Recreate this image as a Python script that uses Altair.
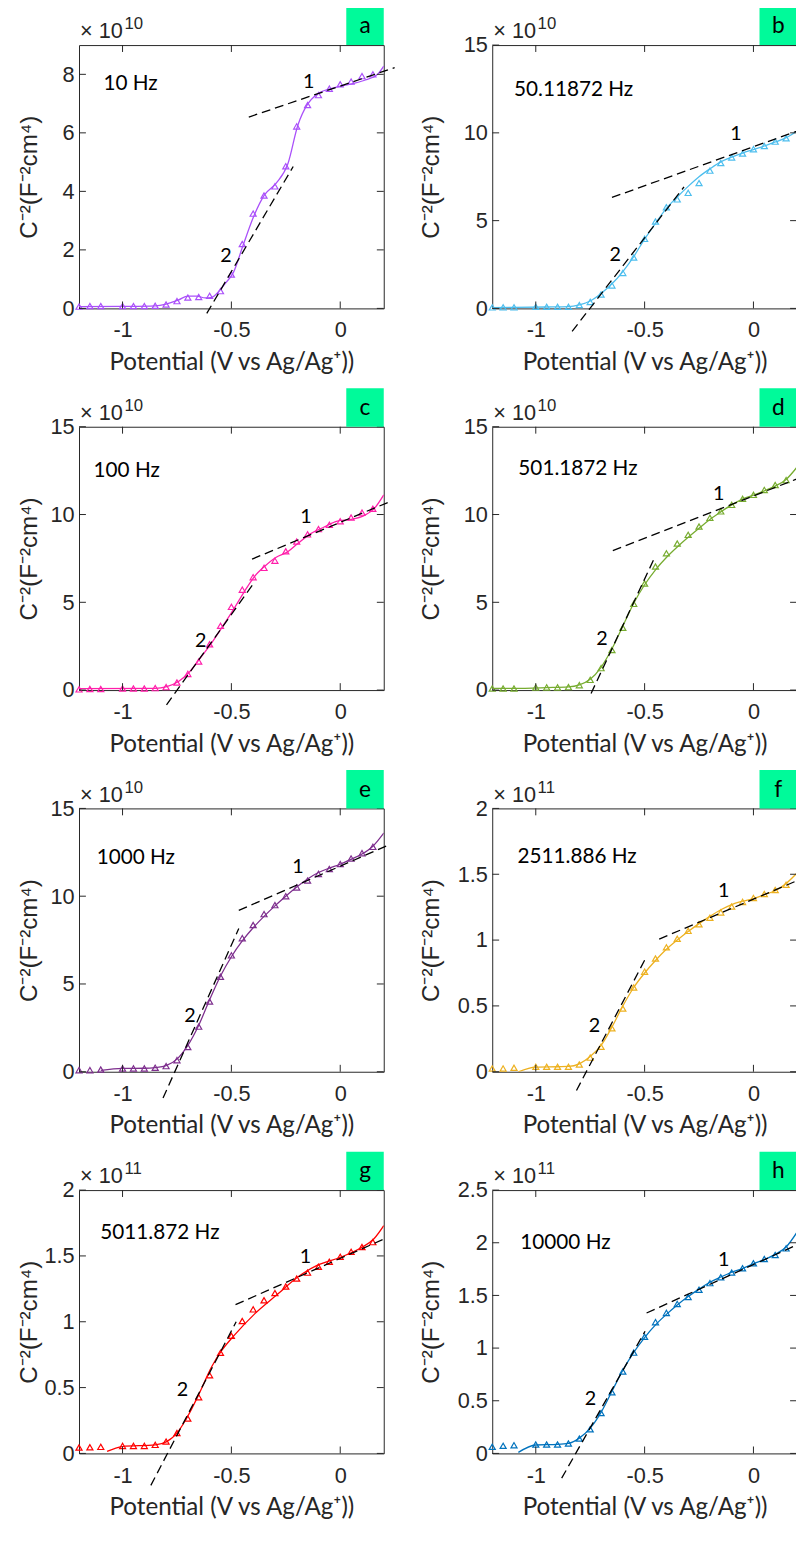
import altair as alt
import pandas as pd

# ---------------- data ----------------
X_PTS = [-1.2, -1.15, -1.1, -1.0, -0.95, -0.9, -0.85, -0.8, -0.75, -0.7, -0.65, -0.6,
         -0.55, -0.5, -0.45, -0.4, -0.35, -0.3, -0.25, -0.2, -0.15, -0.1, -0.05, 0.0,
         0.05, 0.1, 0.15]

letters = ["a", "b", "c", "d", "e", "f", "g", "h"]
freq_labels = ["10 Hz", "50.11872 Hz", "100 Hz", "501.1872 Hz", "1000 Hz",
               "2511.886 Hz", "5011.872 Hz", "10000 Hz"]
exponents = ["10", "10", "10", "10", "10", "11", "11", "11"]
colors = ["#AA50FA", "#4DBEEE", "#FF1FAA", "#77AC30", "#7E2F8E", "#EDB120", "#FF0000", "#0072BD"]
y_max = [9, 15, 15, 15, 15, 2, 2, 2.5]
y_ticks = [[0, 2, 4, 6, 8], [0, 5, 10, 15], [0, 5, 10, 15], [0, 5, 10, 15], [0, 5, 10, 15],
           [0, 0.5, 1, 1.5, 2], [0, 0.5, 1, 1.5, 2], [0, 0.5, 1, 1.5, 2, 2.5]]
x_ticks = [-1, -0.5, 0]

pts_a = [0.06, 0.08, 0.08, 0.08, 0.08, 0.08, 0.09, 0.135, 0.25, 0.37, 0.39, 0.43, 0.59, 1.16,
         2.2, 3.24, 3.86, 4.17, 4.86, 6.22, 6.95, 7.29, 7.51, 7.66, 7.75, 7.94, 8.0]
pts_b = [0.06, 0.06, 0.06, 0.09, 0.09, 0.09, 0.09, 0.19, 0.37, 0.79, 1.31, 2.02, 2.9, 3.96,
         4.95, 5.76, 6.21, 6.58, 7.14, 7.85, 8.28, 8.6, 8.82, 9.07, 9.25, 9.5, 9.69]
pts_c = [0.04, 0.06, 0.06, 0.09, 0.09, 0.09, 0.11, 0.17, 0.43, 0.92, 1.63, 2.61, 3.66, 4.74,
         5.72, 6.43, 6.96, 7.37, 7.91, 8.46, 8.87, 9.17, 9.41, 9.62, 9.83, 10.11, 10.33]
pts_d = [0.09, 0.09, 0.09, 0.15, 0.15, 0.15, 0.17, 0.28, 0.58, 1.25, 2.28, 3.55, 4.91, 6.07,
         7.04, 7.79, 8.35, 8.84, 9.32, 9.81, 10.18, 10.55, 10.89, 11.12, 11.4, 11.68, 11.96]
pts_e = [0.09, 0.09, 0.13, 0.19, 0.19, 0.19, 0.23, 0.32, 0.66, 1.41, 2.57, 4.0, 5.41, 6.63,
         7.61, 8.36, 8.98, 9.49, 10.0, 10.5, 10.89, 11.27, 11.55, 11.83, 12.15, 12.45, 12.81]
pts_f = [0.025, 0.025, 0.03, 0.0375, 0.0375, 0.0375, 0.0375, 0.055, 0.1075, 0.19, 0.33, 0.48,
         0.64, 0.76, 0.86, 0.945, 1.01, 1.07, 1.12, 1.17, 1.21, 1.255, 1.29, 1.32, 1.35, 1.38, 1.42]
pts_g = [0.045, 0.047, 0.05, 0.057, 0.057, 0.057, 0.065, 0.09, 0.155, 0.265, 0.427, 0.594,
         0.764, 0.894, 1.006, 1.094, 1.163, 1.218, 1.268, 1.328, 1.373, 1.418, 1.456, 1.493,
         1.531, 1.568, 1.605]
pts_h = [0.063, 0.072, 0.078, 0.085, 0.085, 0.085, 0.094, 0.141, 0.229, 0.383, 0.581, 0.778,
         0.957, 1.108, 1.246, 1.334, 1.419, 1.485, 1.554, 1.617, 1.673, 1.717, 1.758, 1.805,
         1.846, 1.884, 1.947]
points = [pts_a, pts_b, pts_c, pts_d, pts_e, pts_f, pts_g, pts_h]

STD_CX = [-1.2, -1.1, -0.95, -0.85, -0.8, -0.75, -0.7, -0.65, -0.6, -0.55, -0.5, -0.45, -0.4,
          -0.35, -0.3, -0.25, -0.2, -0.15, -0.1, -0.05, 0.0, 0.05, 0.1, 0.15, 0.2]
crv_x_a = [-1.2, -1.0, -0.85, -0.8, -0.745, -0.7, -0.66, -0.62, -0.59, -0.56, -0.53, -0.49,
           -0.447, -0.4, -0.348, -0.294, -0.24, -0.195, -0.15, -0.112, -0.043, 0.018, 0.109,
           0.17, 0.2]
crv_y_a = [0.06, 0.07, 0.09, 0.15, 0.28, 0.42, 0.42, 0.36, 0.38, 0.56, 0.84, 1.24, 2.14, 3.1,
           3.88, 4.28, 4.95, 6.25, 6.98, 7.29, 7.51, 7.62, 7.79, 7.99, 8.28]
crv_y_b = [0.05, 0.06, 0.08, 0.1, 0.2, 0.42, 0.85, 1.4, 2.1, 2.95, 3.95, 4.85, 5.7, 6.35, 6.95,
           7.5, 7.95, 8.35, 8.62, 8.85, 9.05, 9.25, 9.48, 9.72, 10.1]
crv_x_c = [-1.2, -0.85, -0.797, -0.743, -0.698, -0.644, -0.59, -0.538, -0.485, -0.439, -0.393,
           -0.348, -0.294, -0.241, -0.195, -0.135, -0.074, -0.013, 0.048, 0.109, 0.155, 0.2]
crv_y_c = [0.08, 0.1, 0.2, 0.49, 0.96, 1.8, 2.7, 3.67, 4.7, 5.64, 6.48, 7.04, 7.57, 7.88, 8.35,
           8.91, 9.29, 9.63, 9.72, 9.94, 10.32, 11.12]
crv_y_d = [0.1, 0.1, 0.14, 0.18, 0.3, 0.62, 1.3, 2.35, 3.65, 4.95, 6.0, 6.85, 7.55, 8.15, 8.7,
           9.22, 9.72, 10.15, 10.55, 10.88, 11.1, 11.35, 11.62, 12.0, 12.7]
crv_x_e = [-1.1, -1.0, -0.9, -0.85, -0.8, -0.75, -0.7, -0.65, -0.6, -0.55, -0.5, -0.45, -0.4,
           -0.35, -0.3, -0.25, -0.2, -0.15, -0.1, -0.05, 0.0, 0.05, 0.1, 0.15, 0.2]
crv_y_e = [0.08, 0.19, 0.2, 0.24, 0.35, 0.72, 1.5, 2.65, 4.1, 5.45, 6.55, 7.45, 8.2, 8.85, 9.45,
           10.0, 10.52, 10.98, 11.35, 11.6, 11.82, 12.1, 12.4, 12.85, 13.6]
crv_x_fh = [-1.08, -1.0, -0.9, -0.85, -0.8, -0.75, -0.7, -0.65, -0.6, -0.55, -0.5, -0.45, -0.4,
            -0.35, -0.3, -0.25, -0.2, -0.15, -0.1, -0.05, 0.0, 0.05, 0.1, 0.15, 0.2]
crv_y_f = [0.0, 0.035, 0.038, 0.04, 0.06, 0.115, 0.2, 0.34, 0.5, 0.64, 0.75, 0.845, 0.93, 1.0,
           1.065, 1.125, 1.18, 1.23, 1.27, 1.295, 1.315, 1.345, 1.375, 1.43, 1.51]
crv_x_g = [-1.071, -1.002, -0.85, -0.797, -0.743, -0.698, -0.652, -0.59, -0.545, -0.485,
           -0.393, -0.287, -0.195, -0.104, 0.002, 0.094, 0.155, 0.2]
crv_y_g = [0.015, 0.052, 0.065, 0.09, 0.17, 0.29, 0.44, 0.66, 0.78, 0.90, 1.06, 1.21, 1.34,
           1.43, 1.49, 1.56, 1.63, 1.73]
crv_y_h = [0.01, 0.08, 0.085, 0.095, 0.145, 0.24, 0.39, 0.59, 0.79, 0.96, 1.1, 1.22, 1.32, 1.41,
           1.49, 1.56, 1.625, 1.675, 1.72, 1.755, 1.8, 1.84, 1.89, 1.96, 2.1]
curves_x = [crv_x_a, STD_CX, crv_x_c, STD_CX, crv_x_e, crv_x_fh, crv_x_g, crv_x_fh]
curves_y = [crv_y_a, crv_y_b, crv_y_c, crv_y_d, crv_y_e, crv_y_f, crv_y_g, crv_y_h]

# dashed tangent lines: [x1, y1, x2, y2] for line 1 and line 2
line1 = [[-0.42, 6.54, 0.25, 8.23], [-0.65, 6.32, 0.25, 10.32], [-0.405, 7.46, 0.237, 10.78],
         [-0.646, 7.94, 0.25, 12.27], [-0.466, 9.19, 0.229, 12.95], [-0.433, 1.0075, 0.25, 1.486],
         [-0.481, 1.13, 0.214, 1.6375], [-0.491, 1.333, 0.25, 2.027]]
line2 = [[-0.613, -0.17, -0.216, 4.85], [-0.833, -1.31, -0.319, 6.92], [-0.798, -0.84, -0.397, 6.09],
         [-0.746, -0.19, -0.453, 7.57], [-0.814, -1.5, -0.466, 8.16], [-0.813, -0.1425, -0.491, 0.875],
         [-0.87, -0.2425, -0.478, 1.0], [-0.881, -0.235, -0.498, 1.16]]
lab1 = [[-0.145, 7.74], [-0.08, 9.95], [-0.157, 9.84], [-0.16, 11.16], [-0.194, 11.63],
        [-0.137, 1.37], [-0.16, 1.49], [-0.137, 1.835]]
lab2 = [[-0.525, 1.80], [-0.635, 3.03], [-0.641, 2.81], [-0.696, 2.9], [-0.69, 3.19],
        [-0.73, 0.35], [-0.725, 0.48], [-0.749, 0.518]]
freq_pos = [[-1.088, 7.66], [-1.10, 12.44], [-1.133, 12.47], [-1.08, 12.58], [-1.119, 12.16],
            [-1.084, 1.63], [-1.102, 1.67], [-1.071, 2.0]]

X_TITLE = "Potential (V vs Ag/Ag\u207a))"
Y_TITLE = "C\u207b\u00b2(F\u207b\u00b2cm\u2074)"

# ---------------- styling ----------------
W, H = 309, 267
FRAME = "#262626"
AX_FONT = "Liberation Sans"
TXT_FONT = "Lato"
BOX = "#00FA9A"


def panel(i):
    xs = alt.Scale(domain=[-1.2, 0.2], nice=False, zero=False)
    ys = alt.Scale(domain=[0, y_max[i]], nice=False, zero=False)
    xax = alt.Axis(values=x_ticks, labelExpr="toString(datum.value)", title=X_TITLE)
    yax = alt.Axis(values=y_ticks[i], labelExpr="toString(datum.value)", title=Y_TITLE,
                   titleX=-38 if i % 2 == 0 else -49, titleY=H / 2, titleAlign="center",
                   titleBaseline="bottom", titleAngle=270)

    def X(f):
        return alt.X(f"{f}:Q", scale=xs, axis=xax)

    def Y(f):
        return alt.Y(f"{f}:Q", scale=ys, axis=yax)

    pts = pd.DataFrame({"x": X_PTS, "y": points[i]})
    crv = pd.DataFrame({"x": curves_x[i], "y": curves_y[i]})
    l1, l2 = line1[i], line2[i]
    dl = pd.DataFrame({"x": [l1[0], l1[2], l2[0], l2[2]],
                       "y": [l1[1], l1[3], l2[1], l2[3]],
                       "id": ["1", "1", "2", "2"]})
    labs = pd.DataFrame({"x": [lab1[i][0], lab2[i][0]], "y": [lab1[i][1], lab2[i][1]],
                         "t": ["1", "2"]})
    fq = pd.DataFrame({"x": [freq_pos[i][0]], "y": [freq_pos[i][1]], "t": [freq_labels[i]]})
    xt = pd.DataFrame({"v": x_ticks})
    yt = pd.DataFrame({"v": y_ticks[i]})
    one = pd.DataFrame({"k": [0]})

    curve = alt.Chart(crv).mark_line(color=colors[i], strokeWidth=1.3, interpolate="monotone",
                                     clip=True).encode(x=X("x"), y=Y("y"))
    tri = alt.Chart(pts).mark_point(shape="triangle-up", filled=False, color=colors[i],
                                    size=38, strokeWidth=1.2, opacity=1).encode(x=X("x"), y=Y("y"))
    dash = alt.Chart(dl).mark_line(color="black", strokeWidth=1.3, strokeDash=[9, 5]).encode(
        x=X("x"), y=Y("y"), detail="id:N")
    nums = alt.Chart(labs).mark_text(font=TXT_FONT, fontSize=20, color="black",
                                     baseline="middle", align="center").encode(
        x=X("x"), y=Y("y"), text="t:N")
    freq = alt.Chart(fq).mark_text(font=TXT_FONT, fontSize=21, color="black",
                                   baseline="middle", align="left").encode(
        x=X("x"), y=Y("y"), text="t:N")
    tb = alt.Chart(xt).mark_rule(color=FRAME, strokeWidth=1).encode(
        x=X("v"), y=alt.value(H), y2=alt.value(H - 7))
    tt = alt.Chart(xt).mark_rule(color=FRAME, strokeWidth=1).encode(
        x=X("v"), y=alt.value(0), y2=alt.value(7))
    tl = alt.Chart(yt).mark_rule(color=FRAME, strokeWidth=1).encode(
        y=Y("v"), x=alt.value(0), x2=alt.value(7))
    tr = alt.Chart(yt).mark_rule(color=FRAME, strokeWidth=1).encode(
        y=Y("v"), x=alt.value(W - 7), x2=alt.value(W))
    times = alt.Chart(one).mark_text(font=AX_FONT, fontSize=22, color=FRAME, align="left",
                                     baseline="alphabetic").encode(
        x=alt.value(1), y=alt.value(-7), text=alt.value("\u00d7 10"))
    expo = alt.Chart(one).mark_text(font=AX_FONT, fontSize=17, color=FRAME, align="left",
                                    baseline="alphabetic").encode(
        x=alt.value(46), y=alt.value(-16), text=alt.value(exponents[i]))
    box = alt.Chart(one).mark_rect(color=BOX).encode(
        x=alt.value(W - 38), x2=alt.value(W), y=alt.value(-39), y2=alt.value(0))
    let = alt.Chart(one).mark_text(font=TXT_FONT, fontSize=23, color="black", align="center",
                                   baseline="middle").encode(
        x=alt.value(W - 19), y=alt.value(-19), text=alt.value(letters[i]))

    return alt.layer(curve, tri, dash, nums, freq, tb, tt, tl, tr, times, expo, box, let).properties(
        width=W, height=H)


chart = alt.concat(*[panel(i) for i in range(8)], columns=2,
                   spacing={"row": 120, "column": 110}, bounds="flush").properties(
    padding={"left": 8, "top": -13, "right": -16, "bottom": -4}
).configure_axis(
    domain=False, ticks=False, grid=False, labelFont=AX_FONT, labelFontSize=22,
    labelColor=FRAME, titleColor=FRAME, titleFontWeight="normal"
).configure_axisX(
    labelPadding=12, titleFont=TXT_FONT, titleFontSize=24.5, titlePadding=10
).configure_axisY(
    labelPadding=5, titleFont=AX_FONT, titleFontSize=24.5
).configure_view(stroke=FRAME, strokeWidth=1)

chart.save("out.html", embed_options={"renderer": "svg", "actions": False})
